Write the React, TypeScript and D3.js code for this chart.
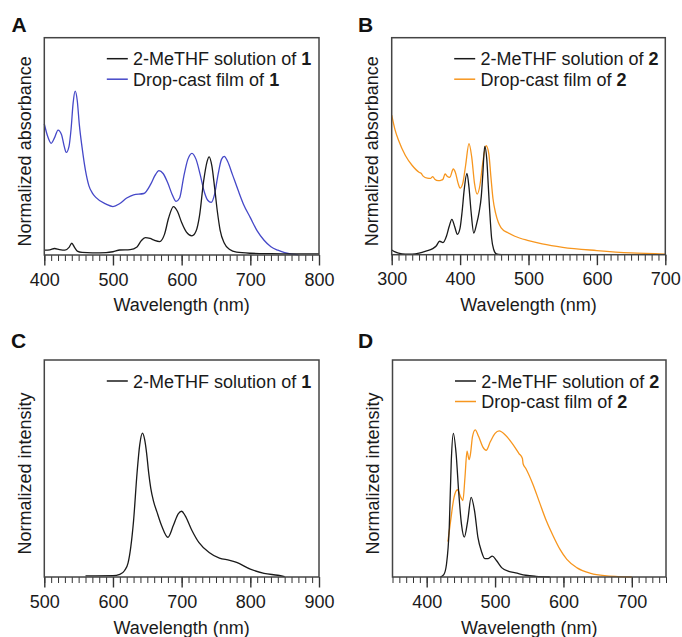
import React, { useEffect, useRef } from "react";
import * as d3 from "d3";

// Absorbance, compound 1 (values as fraction of plot height)
const absSolution1: [number, number][] = [
  [400, 0.022], [408, 0.024], [415, 0.03], [422, 0.025], [430, 0.022], [436, 0.035],
  [440, 0.054], [444, 0.035], [448, 0.018], [455, 0.012], [470, 0.01], [490, 0.011],
  [500, 0.015], [510, 0.023], [525, 0.025], [535, 0.037], [541, 0.065], [547, 0.08],
  [554, 0.076], [560, 0.068], [568, 0.062], [575, 0.095], [581, 0.17], [588, 0.223],
  [594, 0.2], [600, 0.149], [607, 0.105], [615, 0.088], [621, 0.11], [626, 0.18],
  [632, 0.34], [637, 0.43], [640, 0.452], [644, 0.41], [648, 0.31], [652, 0.2],
  [656, 0.115], [662, 0.055], [670, 0.025], [680, 0.013], [700, 0.008], [730, 0.006],
  [760, 0.005], [800, 0.005],
];
const absFilm1: [number, number][] = [
  [400, 0.603], [405, 0.545], [410, 0.514], [415, 0.54], [420, 0.575], [425, 0.555],
  [429, 0.5], [432, 0.472], [436, 0.5], [439, 0.58], [442, 0.7], [445, 0.754],
  [448, 0.71], [451, 0.6], [455, 0.495], [460, 0.388], [465, 0.318], [470, 0.285],
  [475, 0.265], [490, 0.234], [500, 0.223], [510, 0.237], [520, 0.262], [530, 0.277],
  [545, 0.283], [555, 0.326], [561, 0.365], [567, 0.388], [573, 0.375], [580, 0.33],
  [586, 0.28], [592, 0.247], [597, 0.262], [603, 0.36], [609, 0.44], [615, 0.468],
  [621, 0.44], [627, 0.37], [633, 0.29], [638, 0.252], [643, 0.242], [648, 0.28],
  [653, 0.37], [658, 0.44], [662, 0.454], [667, 0.43], [674, 0.37], [682, 0.3],
  [690, 0.234], [700, 0.172], [710, 0.111], [720, 0.068], [730, 0.038], [740, 0.022],
  [750, 0.011], [760, 0.004], [770, 0.001],
];

// Absorbance, compound 2
const absSolution2: [number, number][] = [
  [300, 0.022], [305, 0.013], [310, 0.007], [320, 0.003], [330, 0.003], [340, 0.007],
  [350, 0.016], [360, 0.028], [365, 0.04], [370, 0.062], [375, 0.056], [380, 0.085],
  [384, 0.13], [388, 0.163], [392, 0.13], [396, 0.094], [400, 0.124], [403, 0.2],
  [406, 0.3], [410, 0.375], [413, 0.31], [416, 0.2], [420, 0.1], [424, 0.14],
  [428, 0.2], [431, 0.27], [433, 0.36], [436, 0.499], [439, 0.44], [441, 0.33],
  [443, 0.217], [446, 0.078], [449, 0.025], [453, 0.004], [460, 0.0],
];
const absFilm2: [number, number][] = [
  [300, 0.643], [305, 0.574], [310, 0.527], [320, 0.457], [330, 0.411], [340, 0.38],
  [343, 0.375], [346, 0.362], [352, 0.353], [357, 0.352], [360, 0.36], [363, 0.348],
  [368, 0.341], [372, 0.343], [375, 0.348], [378, 0.372], [381, 0.362], [385, 0.357],
  [390, 0.395], [393, 0.38], [397, 0.33], [400, 0.307], [404, 0.33], [408, 0.41],
  [413, 0.512], [417, 0.45], [421, 0.33], [425, 0.279], [429, 0.32], [433, 0.42],
  [438, 0.502], [442, 0.465], [445, 0.36], [448, 0.26], [452, 0.19], [456, 0.148],
  [460, 0.124], [470, 0.101], [480, 0.085], [500, 0.065], [520, 0.05], [550, 0.034],
  [600, 0.019], [650, 0.008], [700, 0.003],
];

// Emission, compound 1
const emSolution1: [number, number][] = [
  [560, 0.005], [600, 0.006], [610, 0.012], [617, 0.03], [622, 0.065], [626, 0.14],
  [630, 0.26], [635, 0.477], [639, 0.61], [643, 0.663], [646, 0.635], [649, 0.57],
  [652, 0.48], [655, 0.41], [659, 0.35], [664, 0.3], [671, 0.235], [680, 0.183],
  [688, 0.238], [695, 0.291], [700, 0.303], [705, 0.283], [715, 0.214], [725, 0.159],
  [740, 0.113], [755, 0.087], [770, 0.077], [780, 0.067], [800, 0.036], [820, 0.017],
  [840, 0.008], [850, 0.002],
];

// Emission, compound 2
const emSolution2: [number, number][] = [
  [420, 0.0], [425, 0.011], [429, 0.06], [433, 0.228], [436, 0.538], [439, 0.662],
  [443, 0.569], [447, 0.383], [451, 0.24], [455, 0.184], [460, 0.259], [465, 0.367],
  [470, 0.305], [475, 0.181], [480, 0.119], [485, 0.085], [490, 0.085], [496, 0.096],
  [502, 0.076], [510, 0.042], [520, 0.026], [530, 0.019], [545, 0.008], [560, 0.003],
  [580, 0.0],
];
const emFilm2: [number, number][] = [
  [431, 0.163], [435, 0.259], [440, 0.367], [445, 0.402], [450, 0.367], [453, 0.352],
  [456, 0.46], [459, 0.58], [462, 0.541], [464, 0.566], [467, 0.647], [471, 0.678],
  [476, 0.647], [482, 0.6], [487, 0.584], [493, 0.623], [500, 0.662], [506, 0.673],
  [515, 0.654], [525, 0.616], [535, 0.569], [540, 0.546], [541, 0.522], [545, 0.5],
  [555, 0.43], [565, 0.344], [575, 0.259], [585, 0.189], [595, 0.127], [605, 0.081],
  [620, 0.042], [640, 0.017], [660, 0.006], [680, 0.002], [700, 0.0],
];

const solutionLabel = "2-MeTHF solution of ";
const filmLabel = "Drop-cast film of ";
const xTitle = "Wavelength (nm)";
const absTitle = "Normalized absorbance";
const emTitle = "Normalized intensity";

const BLACK = "#1a1a1a";
const BLUE = "#4548c8";
const ORANGE = "#f7961e";
const FONT = "'Liberation Sans', Arial, Helvetica, sans-serif";
const FS = 18;

const panels = [
  {
    letter: "A", letterX: 11.5, letterY: 31.7,
    left: 44.3, top: 37.7, width: 274.7, height: 217.3,
    domain: [400, 800], major: [400, 500, 600, 700, 800], ytitle: absTitle,
    series: [
      { data: absFilm1, color: BLUE },
      { data: absSolution1, color: BLACK },
    ],
    legend: [
      { label: solutionLabel, bold: "1", color: BLACK },
      { label: filmLabel, bold: "1", color: BLUE },
    ],
  },
  {
    letter: "B", letterX: 358, letterY: 31.7,
    left: 391.7, top: 37.7, width: 273.6, height: 217,
    domain: [300, 700], major: [300, 400, 500, 600, 700], ytitle: absTitle,
    series: [
      { data: absFilm2, color: ORANGE },
      { data: absSolution2, color: BLACK },
    ],
    legend: [
      { label: solutionLabel, bold: "2", color: BLACK },
      { label: filmLabel, bold: "2", color: ORANGE },
    ],
  },
  {
    letter: "C", letterX: 11, letterY: 348.3,
    left: 44.3, top: 360, width: 274.7, height: 217,
    domain: [500, 900], major: [500, 600, 700, 800, 900], ytitle: emTitle,
    series: [{ data: emSolution1, color: BLACK }],
    legend: [{ label: solutionLabel, bold: "1", color: BLACK }],
  },
  {
    letter: "D", letterX: 358, letterY: 348.3,
    left: 392.5, top: 360, width: 273.5, height: 217,
    domain: [350, 750], major: [400, 500, 600, 700], ytitle: emTitle,
    series: [
      { data: emFilm2, color: ORANGE },
      { data: emSolution2, color: BLACK },
    ],
    legend: [
      { label: solutionLabel, bold: "2", color: BLACK },
      { label: filmLabel, bold: "2", color: ORANGE },
    ],
  },
];

const App = () => {
  const ref = useRef<SVGSVGElement>(null);

  useEffect(() => {
    document.body.style.margin = "0";
    const svg = d3.select(ref.current);
    svg.selectAll("*").remove();

    panels.forEach((p) => {
      const g = svg.append("g").attr("transform", `translate(${p.left},${p.top})`);
      const w = p.width, h = p.height;
      const x = d3.scaleLinear().domain(p.domain).range([0, w]);
      const y = d3.scaleLinear().domain([0, 1]).range([h, 0]);

      // minor ticks every 10 nm
      g.append("g")
        .attr("transform", `translate(0,${h})`)
        .call(d3.axisBottom(x).tickValues(d3.range(p.domain[0], p.domain[1] + 1, 10)).tickSize(6).tickFormat(() => ""))
        .call((s) => s.select(".domain").remove())
        .call((s) => s.selectAll("line").attr("stroke", "#333").attr("stroke-width", 1));

      // major ticks + labels
      g.append("g")
        .attr("transform", `translate(0,${h})`)
        .call(d3.axisBottom(x).tickValues(p.major).tickSize(10.5).tickPadding(7.3).tickFormat(d3.format("d")))
        .call((s) => s.select(".domain").remove())
        .call((s) => s.selectAll("line").attr("stroke", "#333").attr("stroke-width", 1.4))
        .call((s) => s.selectAll("text").attr("fill", BLACK).attr("font-size", FS).attr("font-family", FONT));

      // curves
      const line = d3.line<[number, number]>()
        .x((d) => x(d[0]))
        .y((d) => y(d[1]))
        .curve(d3.curveMonotoneX);
      p.series.forEach((s) => {
        g.append("path")
          .attr("d", line(s.data))
          .attr("fill", "none")
          .attr("stroke", s.color)
          .attr("stroke-width", 1.3)
          .attr("stroke-linejoin", "round");
      });

      // frame
      g.append("rect")
        .attr("width", w)
        .attr("height", h)
        .attr("fill", "none")
        .attr("stroke", "#444")
        .attr("stroke-width", 1.5);

      // legend
      p.legend.forEach((l, i) => {
        const ly = 21 + i * 20.5;
        g.append("line")
          .attr("x1", 62.5).attr("x2", 83.5)
          .attr("y1", ly).attr("y2", ly)
          .attr("stroke", l.color).attr("stroke-width", 1.5);
        const t = g.append("text")
          .attr("x", 88.8).attr("y", ly + 6.5)
          .attr("font-size", FS).attr("font-family", FONT).attr("fill", BLACK);
        t.append("tspan").text(l.label);
        t.append("tspan").attr("font-weight", "bold").text(l.bold);
      });

      // axis titles
      g.append("text")
        .attr("x", w / 2).attr("y", h + 56.5)
        .attr("text-anchor", "middle")
        .attr("font-size", FS).attr("font-family", FONT).attr("fill", BLACK)
        .text(xTitle);
      g.append("text")
        .attr("transform", `translate(-13.8,${h / 2 + 5}) rotate(-90)`)
        .attr("text-anchor", "middle")
        .attr("font-size", FS).attr("font-family", FONT).attr("fill", BLACK)
        .text(p.ytitle);

      // panel letter
      svg.append("text")
        .attr("x", p.letterX).attr("y", p.letterY)
        .attr("font-size", 21).attr("font-weight", "bold").attr("font-family", FONT).attr("fill", "#111")
        .text(p.letter);
    });
  }, []);

  return <svg ref={ref} width={682} height={637} style={{ display: "block", background: "#fff" }} />;
};

export default App;
